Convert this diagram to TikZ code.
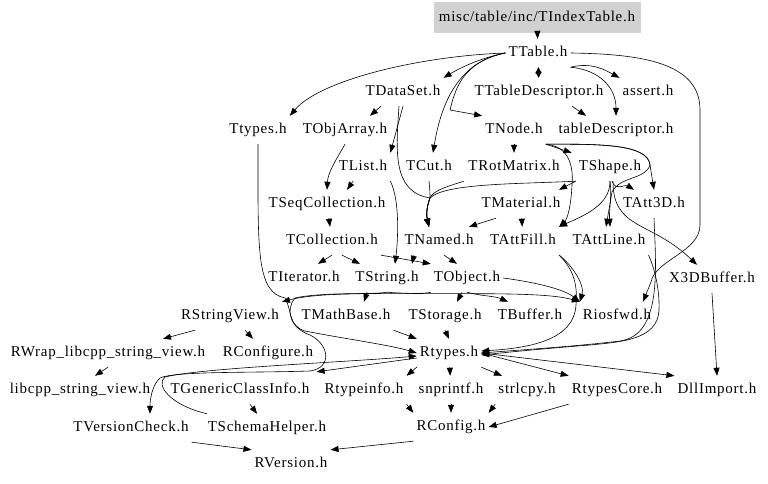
\documentclass[tikz,border=0pt]{standalone}
\usepackage{fontspec}
\setmainfont{Liberation Serif}[LetterSpace=5.0]
\usetikzlibrary{arrows.meta}
\begin{document}
\begin{tikzpicture}[x=1pt,y=-1pt,
  fn/.style={inner xsep=3pt,inner ysep=0pt,minimum height=28pt,text height=10.5pt,text depth=3pt,font=\fontsize{15}{18}\selectfont},
  rootbox/.style={fn,fill=black!18,minimum width=207pt,minimum height=31pt},
  e/.style={draw,line width=0.6pt,-{Triangle[length=8pt,width=6pt]}},
  ee/.style={draw,line width=0.6pt,{Triangle[length=6pt,width=6pt]}-{Triangle[length=6pt,width=6pt]}}]
\fill[white] (0,0) rectangle (768,484);
\useasboundingbox (0,0) rectangle (768,484);
% nodes
\node[rootbox] (idx) at (537,18) {misc/table/inc/TIndexTable.h};
\node[fn] (ttable) at (538,53) {TTable.h};
\node[fn] (tdataset) at (403,92) {TDataSet.h};
\node[fn] (ttdesc) at (539,92) {TTableDescriptor.h};
\node[fn] (assert) at (648,92) {assert.h};
\node[fn] (ttypes) at (258,130) {Ttypes.h};
\node[fn] (tobjarray) at (345,130) {TObjArray.h};
\node[fn] (tnode) at (514,130) {TNode.h};
\node[fn] (tabledesc) at (616,130) {tableDescriptor.h};
\node[fn] (tlist) at (363,167) {TList.h};
\node[fn] (tcut) at (429,167) {TCut.h};
\node[fn] (trotmatrix) at (514,167) {TRotMatrix.h};
\node[fn] (tshape) at (610,167) {TShape.h};
\node[fn] (tseq) at (327,204) {TSeqCollection.h};
\node[fn] (tmaterial) at (521,204) {TMaterial.h};
\node[fn] (tatt3d) at (654,204) {TAtt3D.h};
\node[fn] (tcollection) at (332,241) {TCollection.h};
\node[fn] (tnamed) at (439,241) {TNamed.h};
\node[fn] (tattfill) at (523,241) {TAttFill.h};
\node[fn] (tattline) at (609,241) {TAttLine.h};
\node[fn] (titerator) at (304,278) {TIterator.h};
\node[fn] (tstring) at (387,278) {TString.h};
\node[fn] (tobject) at (467,278) {TObject.h};
\node[fn] (x3d) at (712,279) {X3DBuffer.h};
\node[fn] (rstringview) at (230,316) {RStringView.h};
\node[fn] (tmathbase) at (346,316) {TMathBase.h};
\node[fn] (tstorage) at (445,316) {TStorage.h};
\node[fn] (tbuffer) at (530,316) {TBuffer.h};
\node[fn] (riosfwd) at (617,316) {Riosfwd.h};
\node[fn] (rwrap) at (108,353) {RWrap\_libcpp\_string\_view.h};
\node[fn] (rconfigure) at (268,353) {RConfigure.h};
\node[fn] (rtypes) at (449,353) {Rtypes.h};
\node[fn] (libcpp) at (80,390) {libcpp\_string\_view.h};
\node[fn] (tgci) at (240,390) {TGenericClassInfo.h};
\node[fn] (rtypeinfo) at (364,390) {Rtypeinfo.h};
\node[fn] (snprintf) at (451,390) {snprintf.h};
\node[fn] (strlcpy) at (527,390) {strlcpy.h};
\node[fn] (rtypescore) at (617,390) {RtypesCore.h};
\node[fn] (dllimport) at (717,390) {DllImport.h};
\node[fn] (tversioncheck) at (131,428) {TVersionCheck.h};
\node[fn] (tschemahelper) at (267,428) {TSchemaHelper.h};
\node[fn] (rconfig) at (451,427) {RConfig.h};
\node[fn] (rversion) at (291,464) {RVersion.h};
% edges
\draw[e] (idx) -- (ttable);
\draw[e] (ttable.west) .. controls (480,58) and (460,68) .. (tdataset.north east);
\draw[ee] (ttable) -- (ttdesc);
\draw[e] (ttable.south east) .. controls (592,62) and (605,70) .. (assert.north west);
\draw[e] (ttable.south east) .. controls (600,70) and (616,88) .. (tabledesc.north);
\draw[e] (ttable.west) .. controls (420,56) and (320,80) .. (ttypes.north east);
\draw[e] (ttable.west) .. controls (455,62) and (440,110) .. ([xshift=4pt]tcut.north);
\draw[e] (ttable.west) .. controls (462,62) and (455,90) .. (450,110) -- (tnode.north west);
\draw[e] ([xshift=33pt]ttdesc.south) -- ([xshift=-30pt]tabledesc.north);
\draw[e] ([xshift=-22pt]tdataset.south) -- ([xshift=25pt]tobjarray.north);
\draw[e] (tdataset.south) -- (tlist.north east);
\draw[e] ([xshift=-4pt]tdataset.south) .. controls (396,150) and (392,192) .. (430,198) .. controls (427,206) and (426,214) .. ([xshift=-10pt]tnamed.north);
\draw[e] (tcut.south) .. controls (430,190) and (430,194) .. (430,198) .. controls (427,206) and (426,214) .. ([xshift=-10pt]tnamed.north);
\draw[e] ([xshift=-50pt]trotmatrix.south) .. controls (445,187) and (433,191) .. (430,198) .. controls (427,206) and (426,214) .. ([xshift=-10pt]tnamed.north);
\draw[e] (tshape.south west) .. controls (520,184) and (445,183) .. (430,198) .. controls (427,206) and (426,214) .. ([xshift=-10pt]tnamed.north);
\draw[e] (tshape.south west) -- ([xshift=38pt]tmaterial.north);
\draw[e] (tnode) -- (trotmatrix);
\draw[e] (tnode.south east) -- ([xshift=-4pt]tshape.north west);
\draw[e] (tnode.south east) .. controls (565,146) and (574,160) .. (572,185) .. controls (571,205) and (568,218) .. (tattfill.north east);
\draw[e] (tnode.south east) .. controls (600,144) and (648,144) .. (650,165) -- (tatt3d.north);
\draw[e] (tnode.south east) .. controls (600,144) and (648,144) .. (650,165) .. controls (645,180) and (620,176) .. (612,192) -- ([xshift=-3pt]tattline.north);
\draw[e] (tshape.south) .. controls (612,195) and (609,210) .. ([xshift=1pt]tattline.north);
\draw[e] ([xshift=2pt]tshape.south) .. controls (616,192) and (625,184) .. ([xshift=-20pt]tatt3d.north);
\draw[e] (tshape.south) .. controls (610,205) and (585,215) .. (tattfill.north east);
\draw[e] ([xshift=3pt]tshape.south) .. controls (613,230) and (650,220) .. ([xshift=-15pt]x3d.north);
\draw[e] ([xshift=-25pt]tmaterial.south) -- ([xshift=30pt]tnamed.north);
\draw[e] (tmaterial) -- (tattfill);
\draw[e] (tobjarray.south) .. controls (336,160) and (328,172) .. (tseq.north);
\draw[e] ([xshift=-10pt]tlist.south) -- ([xshift=20pt]tseq.north);
\draw[e] (tseq) -- (tcollection);
\draw[e] (tlist.south east) .. controls (400,200) and (398,240) .. ([xshift=8pt]tstring.north);
\draw[e] (tcollection.south) -- ([xshift=14pt]titerator.north);
\draw[e] ([xshift=10pt]tcollection.south) -- ([xshift=-27pt]tstring.north);
\draw[e] (tcollection.south east) -- (tobject.north west);
\draw[e] ([xshift=5pt]tnamed.south) -- ([xshift=-10pt]tobject.north);
\draw[e] ([xshift=-25pt]tnamed.south) -- ([xshift=25pt]tstring.north);
\draw[e] (tatt3d.south) .. controls (656,270) and (662,335) .. (620,341) .. controls (580,346) and (520,350) .. (rtypes.east);
\draw[e] (tattline.south east) .. controls (652,262) and (660,285) .. (659,310) .. controls (658,340) and (620,342) .. (590,345) .. controls (540,349) and (510,352) .. ([yshift=-2pt]rtypes.east);
\draw[e] (tattfill.south east) .. controls (572,265) and (585,285) .. (riosfwd.north west);
\draw[e] (tattfill.south east) .. controls (572,268) and (578,282) .. (576,305) .. controls (574,340) and (530,348) .. ([yshift=2pt]rtypes.east);
\draw[e] (ttable.east) .. controls (640,54) and (700,62) .. (700,110) -- (700,225) .. controls (700,252) and (655,260) .. (651,282) -- ([xshift=26pt]riosfwd.north);
\draw[e] (x3d.south) -- (dllimport.north);
\draw[e] (tstring.south) .. controls (370,295) and (320,292) .. (rstringview.north east);
\draw[e] (tstring.south) .. controls (430,296) and (540,290) .. (riosfwd.north west);
\draw[e] ([xshift=-20pt]tstring.south) -- ([xshift=18pt]tmathbase.north);
\draw[e] ([xshift=-5pt]tobject.south) -- ([xshift=12pt]tstorage.north);
\draw[e] (tobject.south) .. controls (480,296) and (495,296) .. ([xshift=-22pt]tbuffer.north);
\draw[e] (tobject.east) .. controls (540,283) and (565,290) .. (riosfwd.north west);
\draw[e] (tobject.south west) .. controls (420,296) and (330,290) .. (295,298) .. controls (285,310) and (290,328) .. (310,335) .. controls (330,345) and (332,368) .. (310,371) .. controls (250,373) and (175,371) .. (160,378) .. controls (152,385) and (150,400) .. ([xshift=19pt]tversioncheck.north);
\draw[e] (ttypes.south) .. controls (258,250) and (256,292) .. (285,298) .. controls (292,310) and (288,326) .. (305,331) .. controls (340,338) and (390,345) .. (rtypes.west);
\draw[e] (tmathbase.south east) -- (rtypes.north west);
\draw[e] (tstorage.south) -- (rtypes.north);
\draw[e] ([xshift=-60pt]tschemahelper.north) .. controls (170,405) and (155,385) .. (165,377) .. controls (200,368) and (350,362) .. ([yshift=-3pt]rtypes.west);
\draw[e] ([yshift=-5pt]rtypes.west) -- ([xshift=4pt,yshift=4pt]tgci.north east);
\draw[e] (rtypes.south west) -- (rtypeinfo.north east);
\draw[e] (rtypes) -- (snprintf);
\draw[e] (rtypes.south east) -- ([xshift=-25pt]strlcpy.north);
\draw[e] (rtypes.east) -- (rtypescore.north west);
\draw[e] (rtypes.east) -- (dllimport.north west);
\draw[e] ([xshift=-35pt]rstringview.south) -- ([xshift=55pt]rwrap.north);
\draw[e] ([xshift=15pt]rstringview.south) -- ([xshift=-15pt]rconfigure.north);
\draw[e] (rwrap.south) -- ([xshift=15pt]libcpp.north);
\draw[e] ([xshift=10pt]tgci.south) -- ([xshift=-10pt]tschemahelper.north);
\draw[e] (tversioncheck.south east) -- (rversion.north west);
\draw[e] (rconfig.south west) -- (rversion.north east);
\draw[e] (rtypeinfo.south east) -- (rconfig.north west);
\draw[e] (snprintf) -- (rconfig);
\draw[e] (strlcpy.south west) -- (rconfig.north east);
\draw[e] (rtypescore.south west) -- (rconfig.east);
\end{tikzpicture}
\end{document}
